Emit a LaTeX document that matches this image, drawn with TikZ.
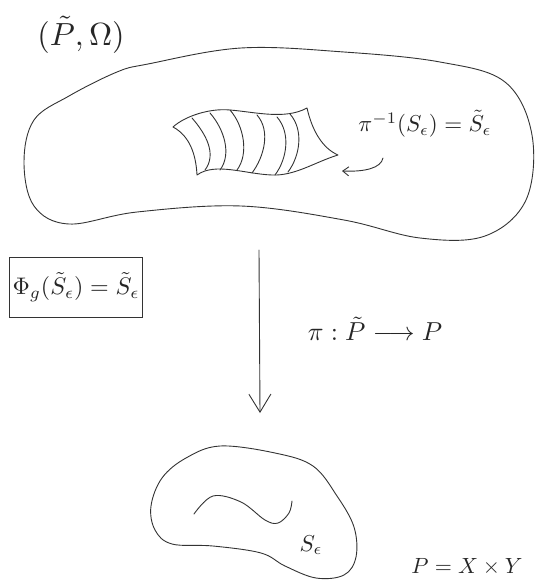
\documentclass[tikz,border=0pt]{standalone}
\usetikzlibrary{arrows.meta}
\begin{document}
\begin{tikzpicture}[x=1pt,y=-1pt,
  sketch/.style={line width=0.9pt,draw=black!80,line cap=round,line join=round},
  lbl/.style={inner sep=0pt,text=black!85}]
\useasboundingbox (0,0) rectangle (539,582);
% title
\node[lbl] (title) at (81,35) {\scalebox{3.2}{$(\tilde{P},\Omega)$}};
% big blob
\draw[sketch] plot[smooth cycle,tension=0.6] coordinates {(148,64) (241,48) (344,52) (440,62) (505,82) (532,135) (526,200) (485,236) (420,238) (344,220) (241,206) (137,212) (69,224) (34,206) (24,162) (34,120) (69,96) (117,72)};
% sheet
\draw[sketch] (173,127) .. controls (185,116) and (210,108) .. (230,110)
  .. controls (255,112) and (285,120) .. (307,108)
  .. controls (312,130) and (322,148) .. (338,155)
  .. controls (315,162) and (295,176) .. (272,175)
  .. controls (245,174) and (215,162) .. (197,175)
  .. controls (196,155) and (190,136) .. (173,127);
\foreach \xt/\yt/\xb/\yb in {192/118/205/170, 210/113/220/170, 230/110/237/170, 257/115/252/173, 277/117/275/175, 290/114/288/172}{
  \draw[sketch] (\xt,\yt) .. controls (\xt+14,\yt+16) and (\xb+12,\yb-16) .. (\xb,\yb);
}
\node[lbl] (preimg) at (425,124) {\scalebox{2.3}{$\pi^{-1}(S_\epsilon)=\tilde{S}_\epsilon$}};
\coordinate (hs) at (383,158);
\coordinate (he) at (342,171);
\draw[sketch,-{Straight Barb[length=6pt,width=9pt]}] (hs) .. controls (381,168) and (365,172) .. (he);
% box
\node[lbl,draw=black!80,line width=0.9pt,minimum width=133pt,minimum height=60pt] (box) at (76,287) {\scalebox{2.4}{$\Phi_g(\tilde{S}_\epsilon)=\tilde{S}_\epsilon$}};
% projection
\coordinate (as) at (259,250);
\coordinate (ae) at (260,413);
\draw[sketch,-{Straight Barb[length=18pt,width=22pt]}] (as) -- (ae);
\node[lbl] (proj) at (375,329) {\scalebox{2.6}{$\pi:\tilde{P}\longrightarrow P$}};
% small blob
\draw[sketch] plot[smooth cycle,tension=0.6] coordinates {(220,446) (275,453) (313,466) (337,496) (354,527) (356,557) (344,575) (316,578) (285,566) (261,553) (213,546) (172,544) (155,530) (151,506) (162,478) (186,458)};
\draw[sketch] plot[smooth,tension=0.6] coordinates {(194,514) (213,496) (241,502) (265,520) (278,523) (289,513) (292,501)};
\node[lbl] (se) at (311,545) {\scalebox{2.3}{$S_\epsilon$}};
\node[lbl] (pxy) at (467,567) {\scalebox{2.2}{$P=X\times Y$}};
\end{tikzpicture}
\end{document}
